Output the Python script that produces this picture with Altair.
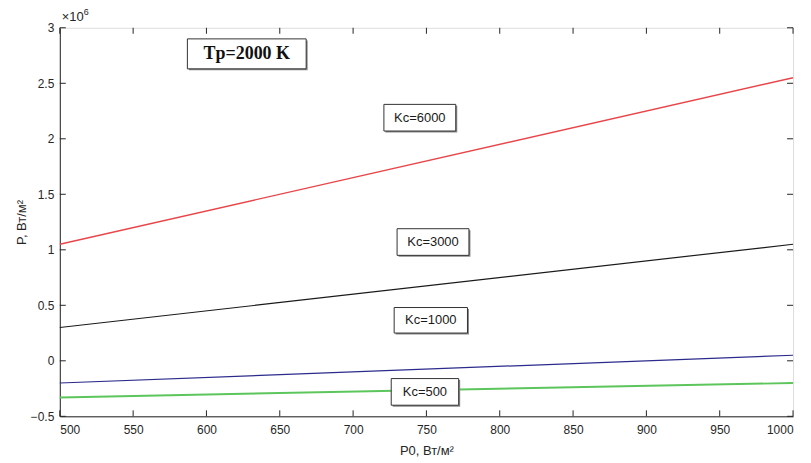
import altair as alt
import pandas as pd

# ---- data (P in units of 1e6 W/m^2) ----
p0 = [500, 1000]
kc6000 = [1.05, 2.55]
kc3000 = [0.30, 1.05]
kc1000 = [-0.20, 0.05]
kc500 = [-0.33, -0.20]

series_names = ["Kc=6000", "Kc=3000", "Kc=1000", "Kc=500"]
series_vals = [kc6000, kc3000, kc1000, kc500]
series_colors = ["#e8464a", "#1a1a1a", "#2b2b8c", "#5cc65c"]
series_widths = [1.4, 1.2, 1.2, 2.0]

x_ticks = [500, 550, 600, 650, 700, 750, 800, 850, 900, 950, 1000]
y_ticks = [-0.5, 0, 0.5, 1, 1.5, 2, 2.5, 3]

# annotation boxes (data coordinates)
box_labels = ["Kc=6000", "Kc=3000", "Kc=1000", "Kc=500"]
box_x1 = [721, 730, 728, 726]
box_x2 = [770, 779, 778, 772]
box_y1 = [2.07, 0.95, 0.25, -0.40]
box_y2 = [2.31, 1.19, 0.48, -0.16]

title_box = {"label": "Tp=2000 K", "x1": 587, "x2": 668, "y1": 2.63, "y2": 2.90}

W, H = 736, 390
axis_col = "#262626"

xs = alt.Scale(domain=[500, 1000], nice=False, zero=False)
ys = alt.Scale(domain=[-0.5, 3], nice=False, zero=False)

layers = []
for name, vals, col, w in zip(series_names, series_vals, series_colors, series_widths):
    df = pd.DataFrame({"P0": p0, "P": vals})
    layers.append(
        alt.Chart(df).mark_line(color=col, strokeWidth=w).encode(
            x=alt.X("P0:Q", scale=xs,
                    axis=alt.Axis(title="P0, Вт/м²", values=x_ticks, ticks=False, format="d",
                                  labelPadding=8, grid=False, domainColor=axis_col,
                                  labelColor=axis_col, titleColor=axis_col,
                                  labelFont="Liberation Sans", titleFont="Liberation Sans",
                                  labelFontSize=12, titleFontSize=13, titleFontWeight="normal",
                                  titlePadding=9)),
            y=alt.Y("P:Q", scale=ys,
                    axis=alt.Axis(title="P, Вт/м²", values=y_ticks, ticks=False,
                                  labelPadding=6, grid=False, domainColor=axis_col,
                                  labelColor=axis_col, titleColor=axis_col,
                                  labelFont="Liberation Sans", titleFont="Liberation Sans",
                                  labelFontSize=12, titleFontSize=13, titleFontWeight="normal",
                                  titlePadding=2, labelExpr="format(datum.value, '')")),
        )
    )

# inward ticks
xt = pd.DataFrame({"v": x_ticks})
yt = pd.DataFrame({"v": y_ticks})
tick_len = 6
layers.append(alt.Chart(xt).mark_rule(color=axis_col).encode(
    x="v:Q", y=alt.value(H), y2=alt.value(H - tick_len)))
layers.append(alt.Chart(xt).mark_rule(color=axis_col).encode(
    x="v:Q", y=alt.value(0), y2=alt.value(tick_len)))
layers.append(alt.Chart(yt).mark_rule(color=axis_col).encode(
    y="v:Q", x=alt.value(0), x2=alt.value(tick_len)))
layers.append(alt.Chart(yt).mark_rule(color=axis_col).encode(
    y="v:Q", x=alt.value(W), x2=alt.value(W - tick_len)))

# Kc annotation boxes
bdf = pd.DataFrame({"label": box_labels, "x1": box_x1, "x2": box_x2,
                    "y1": box_y1, "y2": box_y2})
bdf["xm"] = (bdf["x1"] + bdf["x2"]) / 2
bdf["ym"] = (bdf["y1"] + bdf["y2"]) / 2
layers.append(alt.Chart(bdf).mark_rect(fill="#888888", xOffset=1.5, x2Offset=1.5,
                                        yOffset=1.5, y2Offset=1.5).encode(
    x="x1:Q", x2="x2:Q", y="y1:Q", y2="y2:Q"))
layers.append(alt.Chart(bdf).mark_rect(fill="white", stroke="#333333", strokeWidth=1).encode(
    x="x1:Q", x2="x2:Q", y="y1:Q", y2="y2:Q"))
layers.append(alt.Chart(bdf).mark_text(font="Liberation Sans", fontSize=13, color="#1a1a1a").encode(
    x="xm:Q", y="ym:Q", text="label:N"))

# Tp box
tdf = pd.DataFrame([title_box])
tdf["xm"] = (tdf["x1"] + tdf["x2"]) / 2
tdf["ym"] = (tdf["y1"] + tdf["y2"]) / 2
layers.append(alt.Chart(tdf).mark_rect(fill="#888888", xOffset=1.5, x2Offset=1.5,
                                        yOffset=1.5, y2Offset=1.5).encode(
    x="x1:Q", x2="x2:Q", y="y1:Q", y2="y2:Q"))
layers.append(alt.Chart(tdf).mark_rect(fill="white", stroke="#333333", strokeWidth=1).encode(
    x="x1:Q", x2="x2:Q", y="y1:Q", y2="y2:Q"))
layers.append(alt.Chart(tdf).mark_text(font="Liberation Serif", fontSize=18, fontWeight="bold",
                                        color="#111111").encode(
    x="xm:Q", y="ym:Q", text="label:N"))

# exponent label
edf = pd.DataFrame({"t": ["×10"], "s": ["6"]})
layers.append(alt.Chart(edf).mark_text(font="Liberation Sans", fontSize=13, color=axis_col,
                                        align="left", baseline="bottom").encode(
    x=alt.value(2), y=alt.value(-4), text="t:N"))
layers.append(alt.Chart(edf).mark_text(font="Liberation Sans", fontSize=9, color=axis_col,
                                        align="left", baseline="bottom").encode(
    x=alt.value(24), y=alt.value(-11), text="s:N"))

chart = alt.layer(*layers).properties(
    width=W, height=H,
    autosize=alt.AutoSizeParams(type="none"),
    padding={"left": 52, "top": 19, "right": 10, "bottom": 44},
).configure_view(stroke=axis_col, strokeWidth=1).configure(background="white")

chart.save("out.html", embed_options={"renderer": "svg", "actions": False})
